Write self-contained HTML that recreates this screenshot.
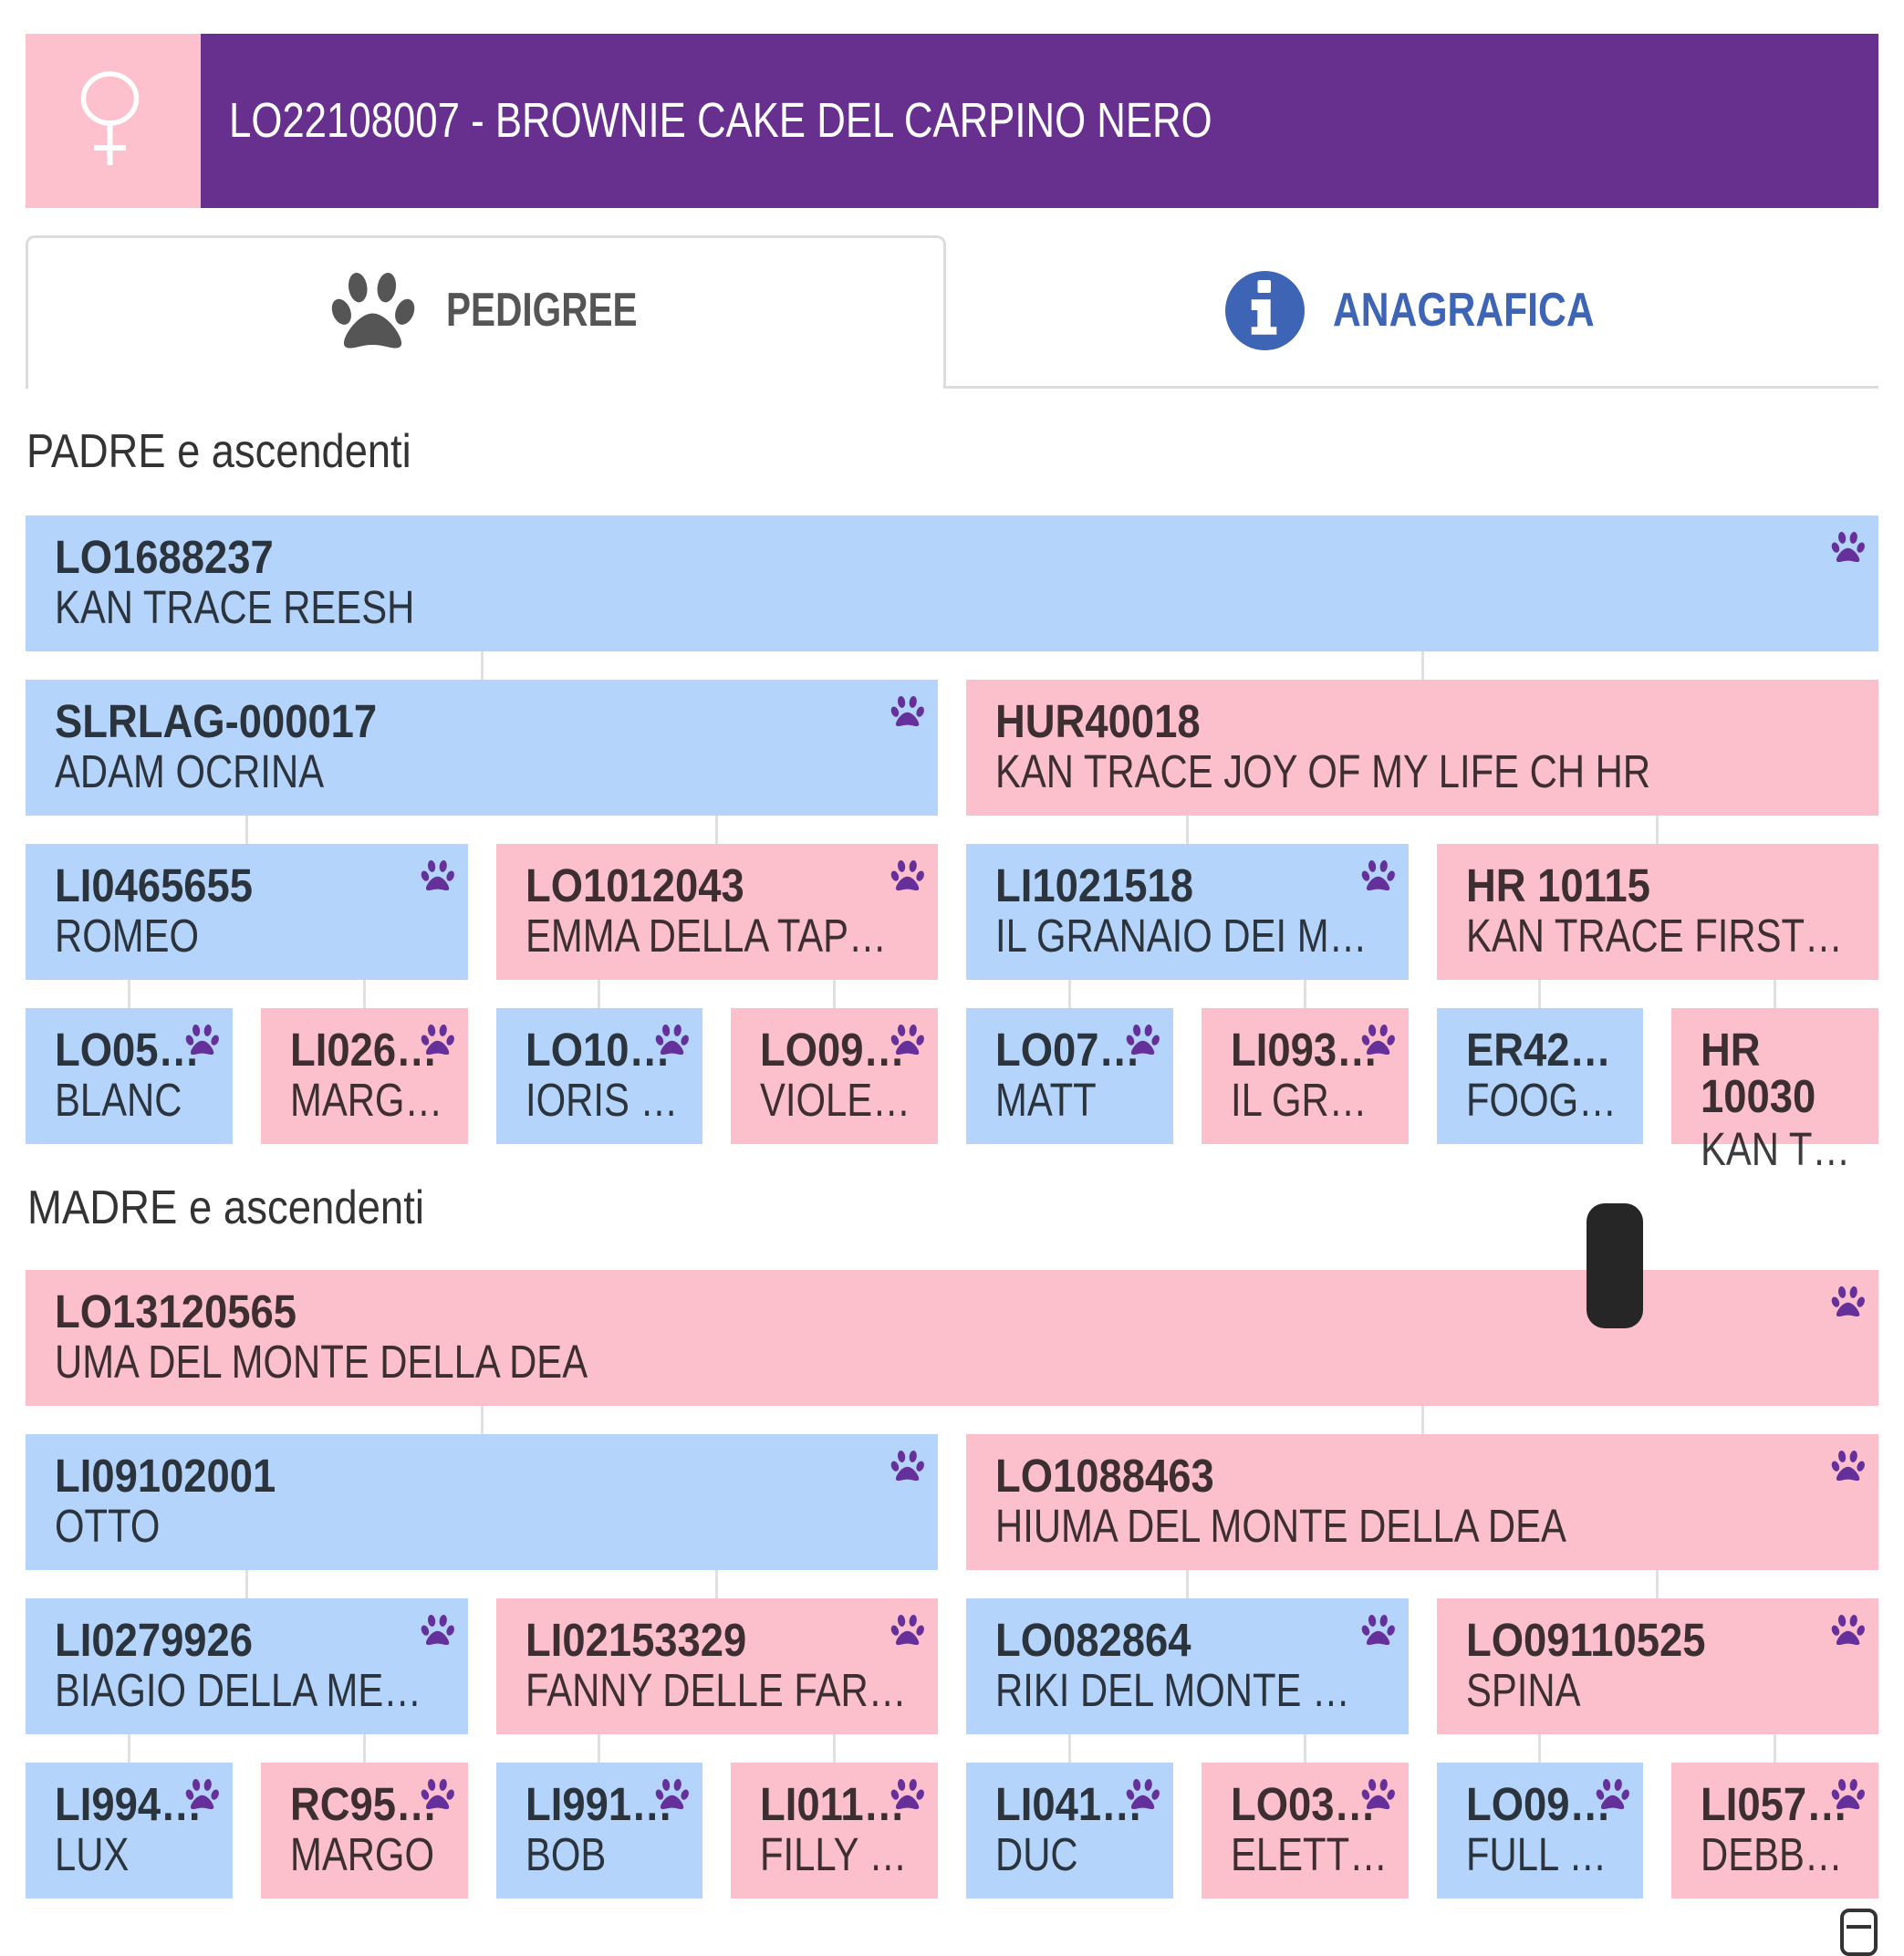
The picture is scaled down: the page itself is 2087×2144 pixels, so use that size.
<!DOCTYPE html>
<html>
<head>
<meta charset="utf-8">
<style>
html,body{margin:0;padding:0;background:#fff;}
body{width:2087px;height:2130px;position:relative;overflow:hidden;font-family:"Liberation Sans",Arial,sans-serif;}
.a{position:absolute;}
.t{position:absolute;white-space:nowrap;transform-origin:0 0;}
.c{position:absolute;height:149px;}
.b{background:#b4d4fb;}
.p{background:#fcbfcc;}
.id{position:absolute;left:32px;top:20px;font-weight:bold;font-size:51px;line-height:51px;color:rgba(0,0,0,.76);transform:scaleX(.89);transform-origin:0 0;white-space:nowrap;}
.nm{position:absolute;left:32px;top:75px;font-size:51px;line-height:51px;color:rgba(0,0,0,.76);transform:scaleX(.82);transform-origin:0 0;white-space:nowrap;}
.paw{position:absolute;right:14px;top:17px;width:38px;height:36px;fill:#66309a;}
.ln{position:absolute;width:3px;height:31px;background:#e0e0e0;}
</style>
</head>
<body>
<svg width="0" height="0" style="position:absolute">
<defs>
<symbol id="paw" viewBox="62 50 292 272">
<ellipse cx="155" cy="105" rx="31" ry="50" transform="rotate(-8 155 105)"/>
<ellipse cx="252" cy="105" rx="31" ry="50" transform="rotate(8 252 105)"/>
<ellipse cx="100" cy="187" rx="30" ry="45" transform="rotate(-22 100 187)"/>
<ellipse cx="313" cy="187" rx="30" ry="45" transform="rotate(22 313 187)"/>
<path d="M205,192 C250,192 300,260 302,290 C304,315 275,310 255,305 C235,300 220,298 205,298 C190,298 175,300 155,305 C135,310 106,315 108,290 C110,260 160,192 205,192 Z"/>
</symbol>
</defs>
</svg>

<!-- Header -->
<div class="a" style="left:28px;top:37px;width:192px;height:191px;background:#fcc1cd;"></div>
<div class="a" style="left:220px;top:37px;width:1839px;height:191px;background:#67308f;"></div>
<svg class="a" style="left:28px;top:37px" width="192" height="191" viewBox="28 37 192 191">
<ellipse cx="120.5" cy="108" rx="29" ry="27" fill="none" stroke="#fff" stroke-width="5.5"/>
<line x1="120.5" y1="135" x2="120.5" y2="181" stroke="#fff" stroke-width="6"/>
<line x1="103" y1="162" x2="138" y2="162" stroke="#fff" stroke-width="6"/>
</svg>
<div class="t" style="left:251px;top:105px;font-size:54px;line-height:54px;color:#fff;transform:scaleX(.81);">LO22108007 - BROWNIE CAKE DEL CARPINO NERO</div>

<!-- Tabs -->
<div class="a" style="left:28px;top:258px;width:1009px;height:168px;box-sizing:border-box;border:3px solid #dcdcdc;border-bottom:none;border-radius:10px 10px 0 0;"></div>
<div class="a" style="left:1034px;top:423px;width:1025px;height:3px;background:#dcdcdc;"></div>
<svg class="a" style="left:362px;top:297px;fill:#555;" width="95" height="89"><use href="#paw"/></svg>
<div class="t" style="left:489px;top:314px;font-size:52px;line-height:52px;font-weight:bold;color:#555;transform:scaleX(.78);">PEDIGREE</div>
<svg class="a" style="left:1343px;top:297px" width="87" height="87" viewBox="0 0 87 87">
<circle cx="43.5" cy="43.5" r="43.5" fill="#3d64b5"/>
<rect x="35.5" y="10" width="14.5" height="14" rx="2" fill="#fff"/>
<path d="M28.7,31.3 H49.7 V61.3 H56.3 V69.7 H28.7 V61.3 H35.3 V43 H28.7 Z" fill="#fff"/>
</svg>
<div class="t" style="left:1461px;top:314px;font-size:52px;line-height:52px;font-weight:bold;color:#3d64b5;transform:scaleX(.82);">ANAGRAFICA</div>

<!-- PADRE -->
<div class="t" style="left:29px;top:469px;font-size:52px;line-height:52px;color:#333;transform:scaleX(.87);">PADRE e ascendenti</div>

<div class="c b" style="left:28px;top:565px;width:2031px"><div class="id">LO1688237</div><div class="nm">KAN TRACE REESH</div><svg class="paw"><use href="#paw"/></svg></div>

<div class="ln" style="left:526.5px;top:714px"></div>
<div class="ln" style="left:1557.5px;top:714px"></div>

<div class="c b" style="left:28px;top:745px;width:1000px"><div class="id">SLRLAG-000017</div><div class="nm">ADAM OCRINA</div><svg class="paw"><use href="#paw"/></svg></div>
<div class="c p" style="left:1059px;top:745px;width:1000px"><div class="id">HUR40018</div><div class="nm">KAN TRACE JOY OF MY LIFE CH HR</div></div>

<div class="ln" style="left:268.75px;top:894px"></div>
<div class="ln" style="left:784.25px;top:894px"></div>
<div class="ln" style="left:1299.75px;top:894px"></div>
<div class="ln" style="left:1815.25px;top:894px"></div>

<div class="c b" style="left:28px;top:925px;width:484.5px"><div class="id">LI0465655</div><div class="nm">ROMEO</div><svg class="paw"><use href="#paw"/></svg></div>
<div class="c p" style="left:543.5px;top:925px;width:484.5px"><div class="id">LO1012043</div><div class="nm">EMMA DELLA TAP…</div><svg class="paw"><use href="#paw"/></svg></div>
<div class="c b" style="left:1059px;top:925px;width:484.5px"><div class="id">LI1021518</div><div class="nm">IL GRANAIO DEI M…</div><svg class="paw"><use href="#paw"/></svg></div>
<div class="c p" style="left:1574.5px;top:925px;width:484.5px"><div class="id">HR 10115</div><div class="nm">KAN TRACE FIRST…</div></div>

<div class="ln" style="left:139.9px;top:1074px"></div>
<div class="ln" style="left:397.6px;top:1074px"></div>
<div class="ln" style="left:655.4px;top:1074px"></div>
<div class="ln" style="left:913.1px;top:1074px"></div>
<div class="ln" style="left:1170.9px;top:1074px"></div>
<div class="ln" style="left:1428.6px;top:1074px"></div>
<div class="ln" style="left:1686.4px;top:1074px"></div>
<div class="ln" style="left:1944.1px;top:1074px"></div>

<div class="c b" style="left:28px;top:1105px;width:226.75px"><div class="id">LO05…</div><div class="nm">BLANC</div><svg class="paw"><use href="#paw"/></svg></div>
<div class="c p" style="left:285.75px;top:1105px;width:226.75px"><div class="id">LI026…</div><div class="nm">MARG…</div><svg class="paw"><use href="#paw"/></svg></div>
<div class="c b" style="left:543.5px;top:1105px;width:226.75px"><div class="id">LO10…</div><div class="nm">IORIS …</div><svg class="paw"><use href="#paw"/></svg></div>
<div class="c p" style="left:801.25px;top:1105px;width:226.75px"><div class="id">LO09…</div><div class="nm">VIOLE…</div><svg class="paw"><use href="#paw"/></svg></div>
<div class="c b" style="left:1059px;top:1105px;width:226.75px"><div class="id">LO07…</div><div class="nm">MATT</div><svg class="paw"><use href="#paw"/></svg></div>
<div class="c p" style="left:1316.75px;top:1105px;width:226.75px"><div class="id">LI093…</div><div class="nm">IL GR…</div><svg class="paw"><use href="#paw"/></svg></div>
<div class="c b" style="left:1574.5px;top:1105px;width:226.75px"><div class="id">ER42…</div><div class="nm">FOOG…</div></div>
<div class="c p" style="left:1832.25px;top:1105px;width:226.75px"><div class="id">HR</div><div class="id" style="top:71px">10030</div><div class="nm" style="top:128.5px">KAN T…</div></div>

<!-- MADRE -->
<div class="t" style="left:30px;top:1297.5px;font-size:52px;line-height:52px;color:#333;transform:scaleX(.875);">MADRE e ascendenti</div>

<div class="c p" style="left:28px;top:1392px;width:2031px"><div class="id">LO13120565</div><div class="nm">UMA DEL MONTE DELLA DEA</div><svg class="paw"><use href="#paw"/></svg></div>

<div class="ln" style="left:526.5px;top:1541px"></div>
<div class="ln" style="left:1557.5px;top:1541px"></div>

<div class="c b" style="left:28px;top:1572px;width:1000px"><div class="id">LI09102001</div><div class="nm">OTTO</div><svg class="paw"><use href="#paw"/></svg></div>
<div class="c p" style="left:1059px;top:1572px;width:1000px"><div class="id">LO1088463</div><div class="nm">HIUMA DEL MONTE DELLA DEA</div><svg class="paw"><use href="#paw"/></svg></div>

<div class="ln" style="left:268.75px;top:1721px"></div>
<div class="ln" style="left:784.25px;top:1721px"></div>
<div class="ln" style="left:1299.75px;top:1721px"></div>
<div class="ln" style="left:1815.25px;top:1721px"></div>

<div class="c b" style="left:28px;top:1752px;width:484.5px"><div class="id">LI0279926</div><div class="nm">BIAGIO DELLA ME…</div><svg class="paw"><use href="#paw"/></svg></div>
<div class="c p" style="left:543.5px;top:1752px;width:484.5px"><div class="id">LI02153329</div><div class="nm">FANNY DELLE FAR…</div><svg class="paw"><use href="#paw"/></svg></div>
<div class="c b" style="left:1059px;top:1752px;width:484.5px"><div class="id">LO082864</div><div class="nm">RIKI DEL MONTE …</div><svg class="paw"><use href="#paw"/></svg></div>
<div class="c p" style="left:1574.5px;top:1752px;width:484.5px"><div class="id">LO09110525</div><div class="nm">SPINA</div><svg class="paw"><use href="#paw"/></svg></div>

<div class="ln" style="left:139.9px;top:1901px"></div>
<div class="ln" style="left:397.6px;top:1901px"></div>
<div class="ln" style="left:655.4px;top:1901px"></div>
<div class="ln" style="left:913.1px;top:1901px"></div>
<div class="ln" style="left:1170.9px;top:1901px"></div>
<div class="ln" style="left:1428.6px;top:1901px"></div>
<div class="ln" style="left:1686.4px;top:1901px"></div>
<div class="ln" style="left:1944.1px;top:1901px"></div>

<div class="c b" style="left:28px;top:1932px;width:226.75px"><div class="id">LI994…</div><div class="nm">LUX</div><svg class="paw"><use href="#paw"/></svg></div>
<div class="c p" style="left:285.75px;top:1932px;width:226.75px"><div class="id">RC95…</div><div class="nm">MARGO</div><svg class="paw"><use href="#paw"/></svg></div>
<div class="c b" style="left:543.5px;top:1932px;width:226.75px"><div class="id">LI991…</div><div class="nm">BOB</div><svg class="paw"><use href="#paw"/></svg></div>
<div class="c p" style="left:801.25px;top:1932px;width:226.75px"><div class="id">LI011…</div><div class="nm">FILLY …</div><svg class="paw"><use href="#paw"/></svg></div>
<div class="c b" style="left:1059px;top:1932px;width:226.75px"><div class="id">LI041…</div><div class="nm">DUC</div><svg class="paw"><use href="#paw"/></svg></div>
<div class="c p" style="left:1316.75px;top:1932px;width:226.75px"><div class="id">LO03…</div><div class="nm">ELETT…</div><svg class="paw"><use href="#paw"/></svg></div>
<div class="c b" style="left:1574.5px;top:1932px;width:226.75px"><div class="id">LO09…</div><div class="nm">FULL …</div><svg class="paw"><use href="#paw"/></svg></div>
<div class="c p" style="left:1832.25px;top:1932px;width:226.75px"><div class="id">LI057…</div><div class="nm">DEBB…</div><svg class="paw"><use href="#paw"/></svg></div>

<!-- overlay elements -->
<div class="a" style="left:1739px;top:1319px;width:62px;height:137px;background:#262626;border-radius:20px;"></div>
<div class="a" style="left:2017px;top:2092px;width:41px;height:52px;box-sizing:border-box;border:4px solid #333;border-radius:10px;"></div>
<div class="a" style="left:2024px;top:2110px;width:27px;height:4px;background:#333;"></div>
</body>
</html>
